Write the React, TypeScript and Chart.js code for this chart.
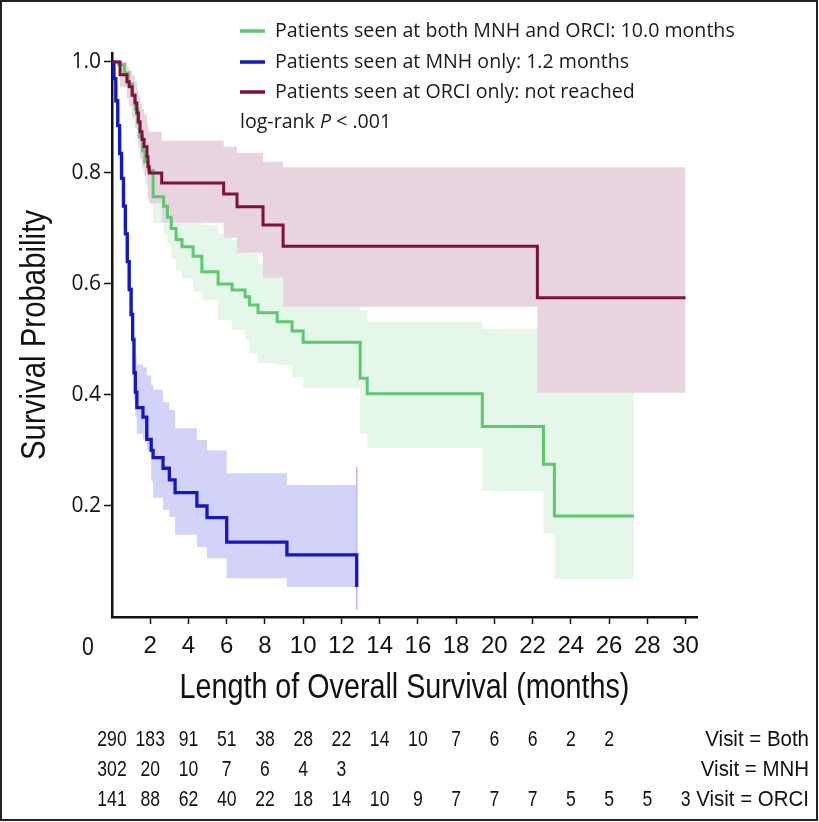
import React, { useEffect, useRef } from "react";
import { Chart, registerables } from "chart.js";

Chart.register(...registerables);

// ---------------- Data ----------------
// Patients seen at both MNH and ORCI
const bothTimes = [0, 0.35, 0.65, 0.85, 1.08, 1.22, 1.35, 1.45, 1.6, 1.72, 1.9, 2.15, 2.7, 2.9, 3.1, 3.35, 3.66, 4.24, 4.7, 5.55, 6.28, 6.96, 7.2, 7.64, 8.64, 9.42, 10.0, 12.98, 13.35, 19.37, 22.57, 23.14];
const bothSurv = [1, 0.995, 0.98, 0.96, 0.94, 0.915, 0.89, 0.865, 0.84, 0.82, 0.805, 0.757, 0.74, 0.72, 0.7, 0.68, 0.667, 0.65, 0.622, 0.6, 0.589, 0.577, 0.562, 0.548, 0.532, 0.515, 0.495, 0.43, 0.402, 0.343, 0.275, 0.182];
const bothLower = [1, 0.985, 0.965, 0.94, 0.915, 0.885, 0.855, 0.83, 0.8, 0.78, 0.76, 0.71, 0.69, 0.67, 0.645, 0.625, 0.61, 0.586, 0.571, 0.535, 0.517, 0.5, 0.475, 0.457, 0.454, 0.432, 0.413, 0.33, 0.305, 0.227, 0.151, 0.068];
const bothUpper = [1, 1, 0.995, 0.98, 0.965, 0.945, 0.925, 0.9, 0.88, 0.86, 0.85, 0.81, 0.79, 0.775, 0.755, 0.74, 0.725, 0.71, 0.706, 0.69, 0.68, 0.665, 0.655, 0.637, 0.62, 0.6, 0.59, 0.553, 0.532, 0.519, 0.5, 0.45];
const bothEnd = 27.3;

// Patients seen at MNH only
const mnhTimes = [0, 0.1, 0.2, 0.3, 0.4, 0.5, 0.6, 0.7, 0.8, 0.9, 1.0, 1.08, 1.15, 1.22, 1.3, 1.62, 1.82, 2.05, 2.15, 2.67, 3.0, 3.3, 4.44, 4.97, 6.0, 9.15, 12.8];
const mnhSurv = [1, 0.97, 0.93, 0.885, 0.835, 0.79, 0.74, 0.69, 0.64, 0.59, 0.545, 0.5, 0.44, 0.405, 0.377, 0.36, 0.32, 0.3, 0.287, 0.268, 0.247, 0.224, 0.2, 0.179, 0.135, 0.112, 0.054];
const mnhLower = [1, 0.95, 0.9, 0.85, 0.8, 0.75, 0.7, 0.645, 0.595, 0.54, 0.495, 0.45, 0.39, 0.36, 0.33, 0.32, 0.3, 0.245, 0.215, 0.193, 0.18, 0.148, 0.126, 0.106, 0.07, 0.054, 0.054];
const mnhUpper = [1, 0.99, 0.96, 0.92, 0.875, 0.83, 0.785, 0.735, 0.685, 0.64, 0.595, 0.55, 0.49, 0.47, 0.455, 0.45, 0.435, 0.418, 0.41, 0.387, 0.373, 0.34, 0.319, 0.3, 0.259, 0.238, 0.238];
const mnhLastCI = [0.013, 0.27];

// Patients seen at ORCI only
const orciTimes = [0, 0.42, 0.78, 0.9, 1.05, 1.2, 1.3, 1.38, 1.47, 1.57, 1.68, 1.83, 1.88, 1.95, 2.6, 5.84, 6.54, 7.9, 8.95, 22.25];
const orciSurv = [1, 0.977, 0.964, 0.955, 0.94, 0.926, 0.908, 0.892, 0.874, 0.86, 0.847, 0.829, 0.811, 0.8, 0.782, 0.762, 0.739, 0.706, 0.668, 0.575];
const orciLower = [1, 0.955, 0.935, 0.92, 0.9, 0.88, 0.86, 0.845, 0.825, 0.81, 0.795, 0.775, 0.755, 0.745, 0.71, 0.683, 0.656, 0.611, 0.559, 0.404];
const orciUpper = [1, 1, 0.99, 0.985, 0.975, 0.965, 0.95, 0.94, 0.925, 0.915, 0.905, 0.89, 0.88, 0.874, 0.858, 0.847, 0.836, 0.82, 0.81, 0.81];
const orciEnd = 30.0;

// Axes
const xTicks = [2, 4, 6, 8, 10, 12, 14, 16, 18, 20, 22, 24, 26, 28, 30];
const yTicks = [0.2, 0.4, 0.6, 0.8, 1.0];

// Numbers at risk
const riskTimes = [0, 2, 4, 6, 8, 10, 12, 14, 16, 18, 20, 22, 24, 26, 28, 30];
const riskBoth = [290, 183, 91, 51, 38, 28, 22, 14, 10, 7, 6, 6, 2, 2];
const riskMNH = [302, 20, 10, 7, 6, 4, 3];
const riskORCI = [141, 88, 62, 40, 22, 18, 14, 10, 9, 7, 7, 7, 5, 5, 5, 3];
const riskLabels = ["Visit = Both", "Visit = MNH", "Visit = ORCI"];

const legendLabels = [
  "Patients seen at both MNH and ORCI: 10.0 months",
  "Patients seen at MNH only: 1.2 months",
  "Patients seen at ORCI only: not reached",
];

// ---------------- Styles ----------------
const GREEN = "#5cc96f";
const BLUE = "#1218c4";
const MAROON = "#7e0f3e";
const GREEN_BAND = "#e4f7e8";
const BLUE_BAND = "#d3d3fa";
const MAROON_BAND = "#e8d4de";
const SANS = '"Liberation Sans", Arial, sans-serif';
const WIDE = '"Open Sans", "DejaVu Sans", sans-serif';

function steps(times: number[], vals: number[], end: number) {
  const pts = times.map((t, i) => ({ x: t, y: vals[i] }));
  pts.push({ x: end, y: vals[vals.length - 1] });
  return pts;
}

// condensed-looking text: Liberation Sans squeezed horizontally
function narrow(
  ctx: CanvasRenderingContext2D,
  text: string,
  x: number,
  y: number,
  size: number,
  sx: number,
  align: CanvasTextAlign,
  rotate = 0
) {
  ctx.save();
  ctx.translate(x, y);
  if (rotate) ctx.rotate(rotate);
  ctx.scale(sx, 1);
  ctx.font = `${size}px ${SANS}`;
  ctx.textAlign = align;
  ctx.textBaseline = "middle";
  ctx.fillText(text, 0, 0);
  ctx.restore();
}

const overlay = {
  id: "overlay",
  afterDraw(chart: any) {
    const ctx = chart.ctx as CanvasRenderingContext2D;
    const xs = chart.scales.x;
    const area = chart.chartArea;
    ctx.save();

    // Legend
    const colors = [GREEN, BLUE, MAROON];
    const legY = [31, 62, 92];
    const lf = `19.6px ${WIDE}`;
    ctx.font = lf;
    ctx.textBaseline = "middle";
    ctx.textAlign = "left";
    legendLabels.forEach((lab, i) => {
      ctx.strokeStyle = colors[i];
      ctx.lineWidth = 3.5;
      ctx.beginPath();
      ctx.moveTo(240, legY[i]);
      ctx.lineTo(265, legY[i]);
      ctx.stroke();
      ctx.fillStyle = "#1a1a1a";
      ctx.font = lf;
      ctx.fillText(lab, 275, legY[i]);
    });
    // log-rank P
    let px = 240;
    const py = 122;
    ctx.font = lf;
    ctx.fillText("log-rank ", px, py);
    px += ctx.measureText("log-rank ").width;
    ctx.font = `italic 19.6px ${WIDE}`;
    ctx.fillText("P", px, py);
    px += ctx.measureText("P").width;
    ctx.font = lf;
    ctx.fillText(" < .001", px, py);

    ctx.fillStyle = "#111";
    // "0" at the corner
    narrow(ctx, "0", 88, 648, 25, 0.85, "center");

    // Axis titles
    narrow(ctx, "Length of Overall Survival (months)", (area.left + area.right) / 2, 688, 35, 0.82, "center");
    narrow(ctx, "Survival Probability", 35, (area.top + area.bottom) / 2, 35, 0.84, "center", -Math.PI / 2);

    // Risk table
    const rows = [riskBoth, riskMNH, riskORCI];
    const rowY = [740, 770, 800];
    rows.forEach((r, ri) => {
      r.forEach((n, ci) => {
        narrow(ctx, String(n), xs.getPixelForValue(riskTimes[ci]), rowY[ri], 22, 0.8, "center");
      });
      narrow(ctx, riskLabels[ri], 809, rowY[ri], 22, 0.93, "right");
    });

    // Frame
    ctx.strokeStyle = "#222";
    ctx.lineWidth = 2;
    ctx.strokeRect(1, 1, 816, 819);
    ctx.restore();
  },
};

export default function App() {
  const ref = useRef<HTMLCanvasElement | null>(null);
  useEffect(() => {
    if (!ref.current) return;
    const band = (data: any, color: string, fill: any, order: number) => ({
      data,
      borderWidth: 0,
      borderColor: "rgba(0,0,0,0)",
      backgroundColor: color,
      pointRadius: 0,
      stepped: "before" as const,
      fill,
      order,
      tension: 0,
    });
    const line = (data: any, color: string, order: number, width = 3) => ({
      data,
      borderWidth: width,
      borderColor: color,
      backgroundColor: color,
      pointRadius: 0,
      stepped: "before" as const,
      fill: false,
      order,
      tension: 0,
    });
    const mnhEnd = mnhTimes[mnhTimes.length - 1];
    const chart = new Chart(ref.current, {
      type: "line",
      data: {
        datasets: [
          band(steps(bothTimes, bothUpper, bothEnd), GREEN_BAND, "+1", 30),
          band(steps(bothTimes, bothLower, bothEnd), GREEN_BAND, false, 30),
          band(steps(mnhTimes, mnhUpper, mnhEnd), BLUE_BAND, "+1", 25),
          band(steps(mnhTimes, mnhLower, mnhEnd), BLUE_BAND, false, 25),
          band(steps(orciTimes, orciUpper, orciEnd), MAROON_BAND, "+1", 20),
          band(steps(orciTimes, orciLower, orciEnd), MAROON_BAND, false, 20),
          line(mnhLastCI.map((v) => ({ x: mnhEnd, y: v })), "#b9b9ef", 10, 1.5),
          line(steps(bothTimes, bothSurv, bothEnd), GREEN, 3),
          line(steps(mnhTimes, mnhSurv, mnhEnd), BLUE, 2, 3.3),
          line(steps(orciTimes, orciSurv, orciEnd), MAROON, 1),
        ] as any,
      },
      plugins: [overlay],
      options: {
        animation: false,
        responsive: false,
        events: [],
        layout: { padding: { left: 0, top: 53, right: 122, bottom: 0 } },
        plugins: { legend: { display: false }, tooltip: { enabled: false } },
        scales: {
          x: {
            type: "linear",
            min: 0,
            max: 30.6,
            afterBuildTicks: (s: any) => {
              s.ticks = xTicks.map((v) => ({ value: v }));
            },
            afterFit: (s: any) => {
              s.height = 205;
            },
            ticks: {
              autoSkip: false,
              maxRotation: 0,
              padding: 8,
              color: "#111",
              font: { family: SANS, size: 24 },
              callback: (v: any) => String(v),
            },
            grid: {
              display: true,
              drawOnChartArea: false,
              drawTicks: true,
              tickLength: 7,
              tickWidth: 1.5,
              tickColor: "#111",
            },
            border: { display: true, color: "#111", width: 2.5 },
          },
          y: {
            type: "linear",
            min: 0,
            max: 1.016,
            afterBuildTicks: (s: any) => {
              s.ticks = yTicks.map((v) => ({ value: v }));
            },
            afterFit: (s: any) => {
              s.width = 112;
            },
            ticks: {
              padding: 3,
              color: "#111",
              font: { family: WIDE, size: 21 },
              callback: (v: any) => Number(v).toFixed(1),
            },
            grid: {
              display: true,
              drawOnChartArea: false,
              drawTicks: true,
              tickLength: 8,
              tickWidth: 1.5,
              tickColor: "#111",
            },
            border: { display: true, color: "#111", width: 2.5 },
          },
        },
      } as any,
    });
    return () => chart.destroy();
  }, []);
  return (
    <div style={{ position: "absolute", left: 0, top: 0, width: 819, height: 822, background: "#fff" }}>
      <canvas ref={ref} width={819} height={822} style={{ display: "block" }} />
    </div>
  );
}
